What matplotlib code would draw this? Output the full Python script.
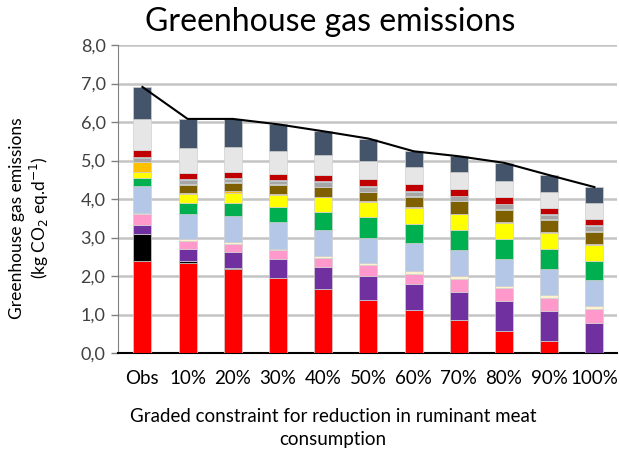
import matplotlib
matplotlib.use("Agg")
import matplotlib.pyplot as plt
import numpy as np

plt.rcParams['font.family'] = ['Lato', 'DejaVu Sans']

categories = ["Obs", "10%", "20%", "30%", "40%", "50%", "60%", "70%", "80%", "90%", "100%"]

# Stacked components, bottom to top (kg CO2 eq./d)
red        = [2.39, 2.35, 2.18, 1.94, 1.67, 1.37, 1.11, 0.85, 0.58, 0.32, 0.00]
black      = [0.71, 0.03, 0.03, 0.00, 0.00, 0.00, 0.00, 0.00, 0.00, 0.00, 0.00]
purple     = [0.22, 0.31, 0.41, 0.50, 0.56, 0.63, 0.68, 0.74, 0.77, 0.77, 0.78]
pink       = [0.28, 0.21, 0.20, 0.23, 0.24, 0.28, 0.26, 0.33, 0.33, 0.33, 0.36]
cream      = [0.03, 0.05, 0.06, 0.04, 0.04, 0.05, 0.08, 0.07, 0.06, 0.08, 0.07]
lightblue  = [0.70, 0.66, 0.69, 0.68, 0.68, 0.67, 0.73, 0.69, 0.71, 0.69, 0.68]
green      = [0.22, 0.29, 0.32, 0.41, 0.46, 0.52, 0.50, 0.51, 0.50, 0.50, 0.50]
yellow     = [0.15, 0.22, 0.27, 0.31, 0.39, 0.40, 0.41, 0.41, 0.42, 0.42, 0.41]
orange     = [0.27, 0.03, 0.04, 0.03, 0.02, 0.02, 0.02, 0.02, 0.02, 0.02, 0.02]
brown      = [0.00, 0.22, 0.21, 0.22, 0.24, 0.23, 0.27, 0.32, 0.32, 0.33, 0.33]
olive      = [0.00, 0.02, 0.02, 0.02, 0.02, 0.02, 0.02, 0.02, 0.02, 0.02, 0.02]
gray       = [0.09, 0.10, 0.08, 0.08, 0.11, 0.11, 0.10, 0.11, 0.13, 0.11, 0.13]
blue       = [0.04, 0.02, 0.03, 0.03, 0.03, 0.03, 0.03, 0.02, 0.02, 0.02, 0.02]
darkred    = [0.18, 0.17, 0.16, 0.17, 0.17, 0.18, 0.17, 0.18, 0.16, 0.16, 0.15]
lightgray  = [0.80, 0.65, 0.65, 0.59, 0.50, 0.47, 0.46, 0.44, 0.42, 0.42, 0.43]
slate      = [0.83, 0.75, 0.73, 0.69, 0.63, 0.59, 0.40, 0.40, 0.48, 0.43, 0.41]

series = [red, black, purple, pink, cream, lightblue, green, yellow, orange,
          brown, olive, gray, blue, darkred, lightgray, slate]
colors = ["#ff0000", "#000000", "#7030a0", "#ff99cc", "#fff2cc", "#b4c7e7",
          "#00b050", "#ffff00", "#ffc000", "#7f6000", "#77933c", "#a6a6a6",
          "#4bacc6", "#c00000", "#e6e6e6", "#44546a"]

yticks = np.arange(0, 8.01, 1.0)
ytick_labels = [f"{v:.1f}".replace(".", ",") for v in yticks]

fig = plt.figure(figsize=(6.19, 4.49), dpi=100)
ax = fig.add_axes([118/619, 1-353/449, (617-118)/619, (353-45)/449])

x = np.arange(len(categories))
bottom = np.zeros(len(categories))
for vals, c in zip(series, colors):
    v = np.array(vals)
    ax.bar(x, v, 0.4, bottom=bottom, color=c, edgecolor="#d0d0d0",
           linewidth=0.5, zorder=3)
    bottom += v

ax.plot(x, bottom, color="black", linewidth=1.5, zorder=4)

ax.set_ylim(0, 8)
ax.set_xlim(-0.54, 10.5)
ax.set_yticks(yticks)
ax.set_yticklabels(ytick_labels, fontsize=13, color="#404040")
ax.set_xticks(x)
ax.set_xticklabels(categories, fontsize=13.5, color="black")
ax.tick_params(axis="x", length=0, pad=12)
ax.tick_params(axis="y", length=5, width=1, color="#808080", pad=4)
ax.yaxis.grid(True, color="#c4c4c4", linewidth=1.8, zorder=0)
ax.set_axisbelow(True)
for s in ["top", "right"]:
    ax.spines[s].set_visible(False)
ax.spines["left"].set_color("#808080")
ax.spines["bottom"].set_color("black")
ax.spines["bottom"].set_linewidth(1.5)

fig.text(330/619, 1-22/449, "Greenhouse gas emissions", ha="center", va="center",
         fontsize=23)
fig.text(333/619, 1-428/449, "Graded constraint for reduction in ruminant meat\nconsumption",
         ha="center", va="center", fontsize=13.5, linespacing=1.4)
fig.text(30/619, 1-218/449, "Greenhouse gas emissions\n(kg CO$_2$ eq.d$^{-1}$)",
         ha="center", va="center", rotation=90, fontsize=12.5, linespacing=1.2)

fig.savefig("out.png", dpi=100)
